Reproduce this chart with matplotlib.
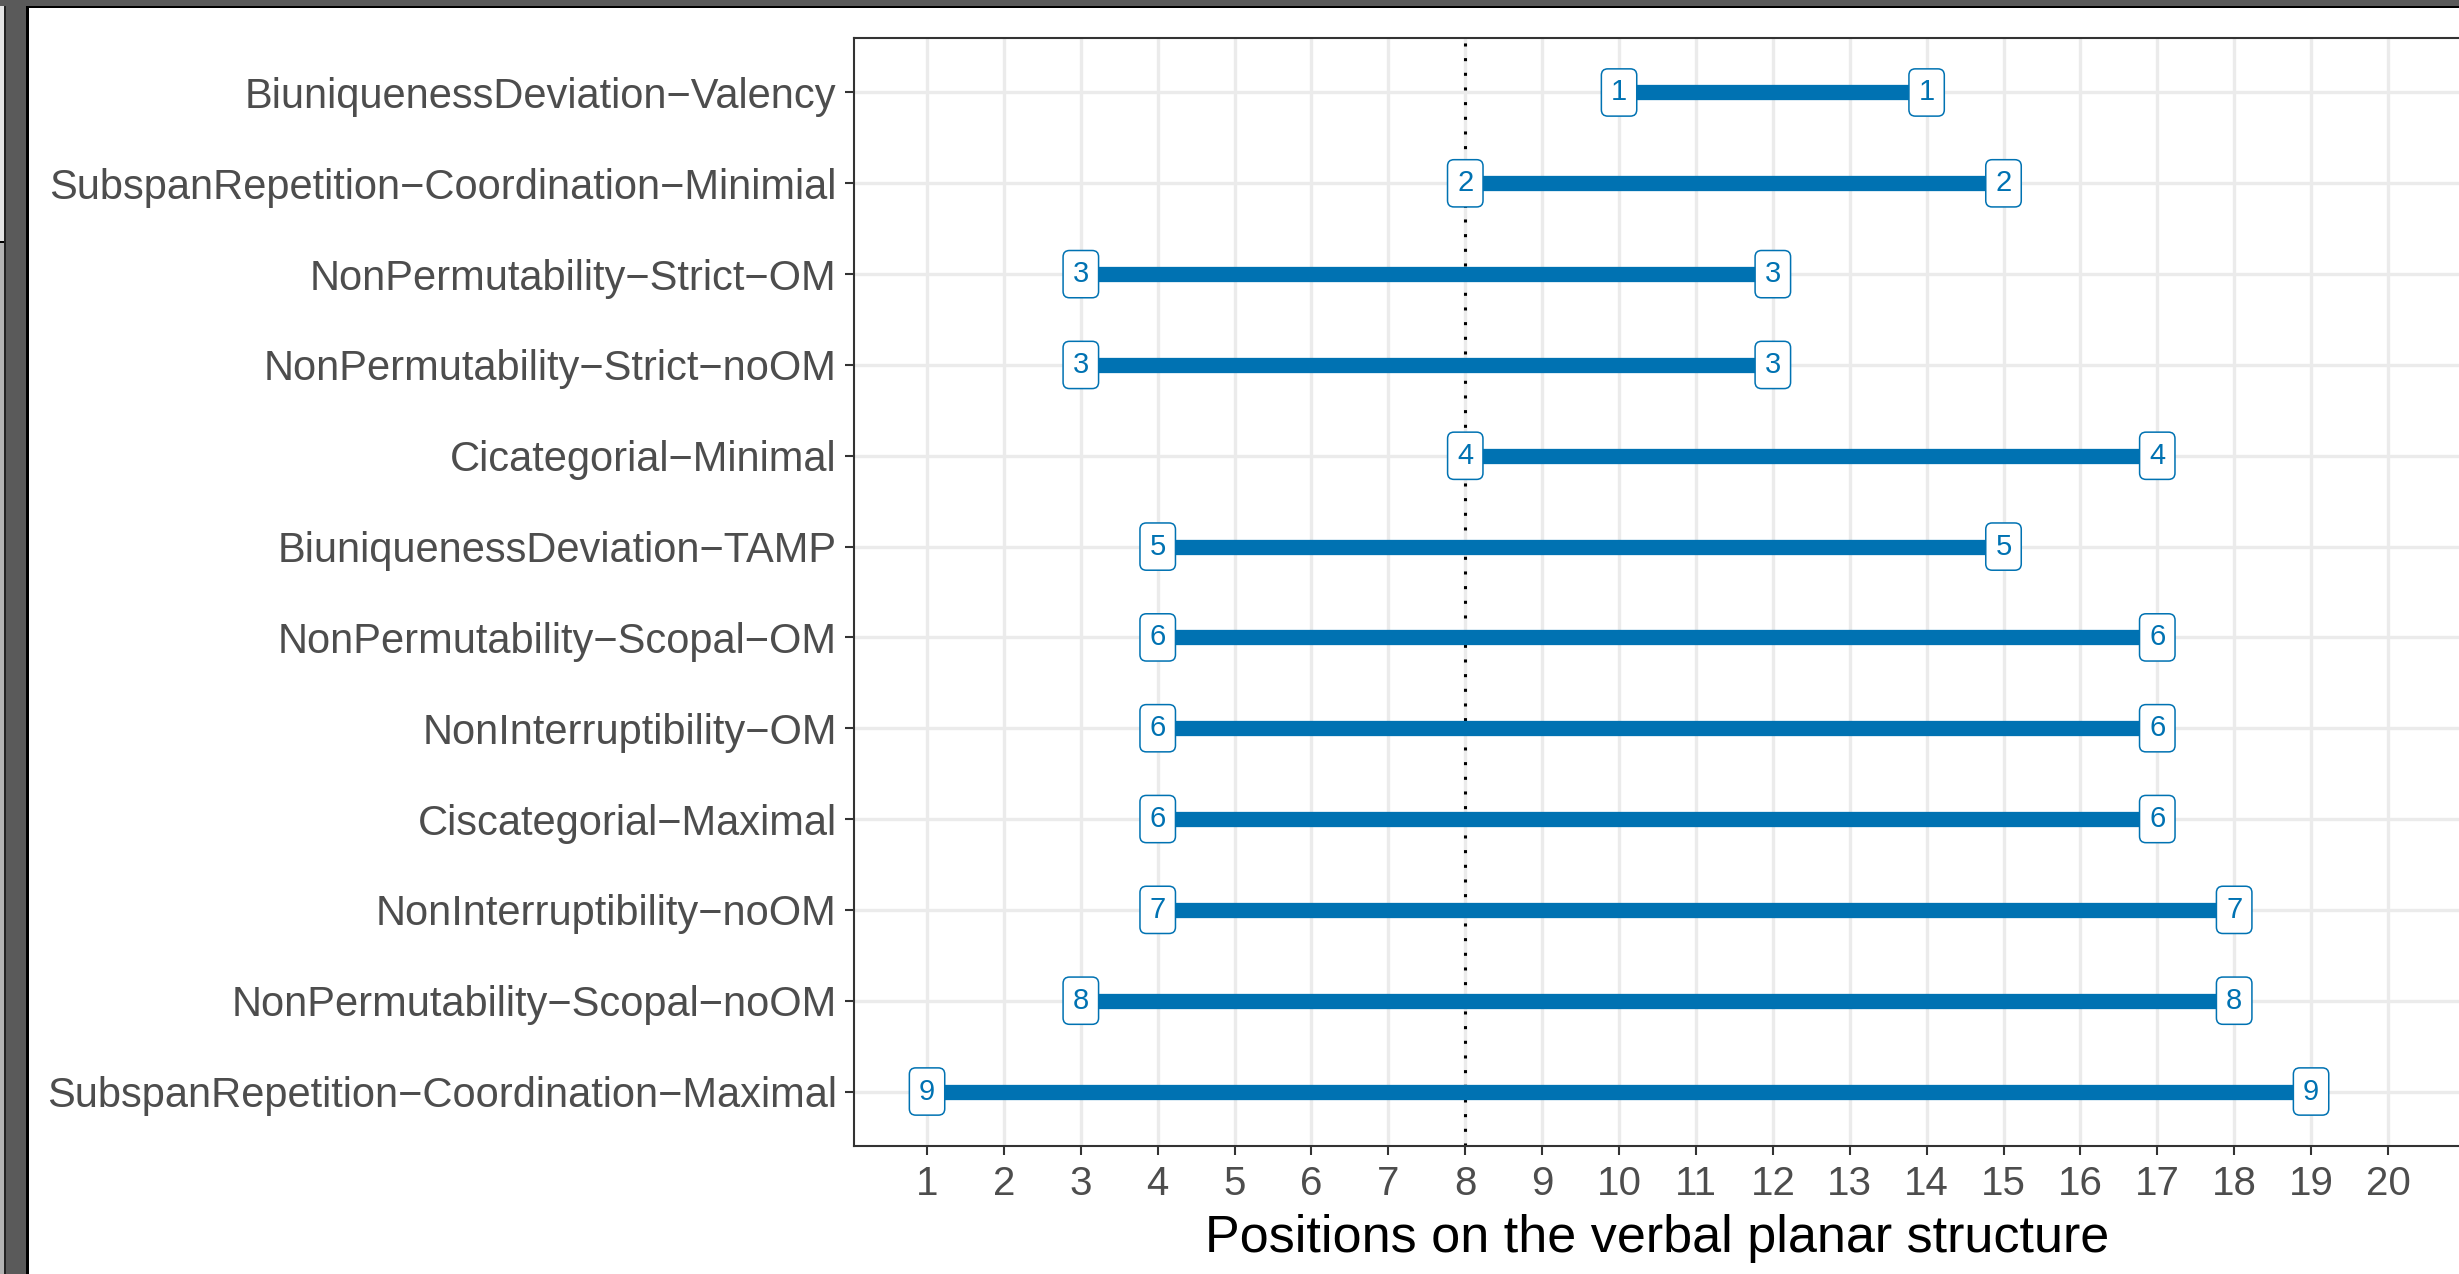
import numpy as np
import matplotlib.pyplot as plt
from matplotlib.patches import Rectangle

# data
labels = [
    "BiuniquenessDeviation\u2212Valency",
    "SubspanRepetition\u2212Coordination\u2212Minimial",
    "NonPermutability\u2212Strict\u2212OM",
    "NonPermutability\u2212Strict\u2212noOM",
    "Cicategorial\u2212Minimal",
    "BiuniquenessDeviation\u2212TAMP",
    "NonPermutability\u2212Scopal\u2212OM",
    "NonInterruptibility\u2212OM",
    "Ciscategorial\u2212Maximal",
    "NonInterruptibility\u2212noOM",
    "NonPermutability\u2212Scopal\u2212noOM",
    "SubspanRepetition\u2212Coordination\u2212Maximal",
]
starts = [10, 8, 3, 3, 8, 4, 4, 4, 4, 4, 3, 1]
ends = [14, 15, 12, 12, 17, 15, 17, 17, 17, 18, 18, 19]
span_ids = [1, 2, 3, 3, 4, 5, 6, 6, 6, 7, 8, 9]
x_ticks = list(range(1, 21))
ref_pos = 8

BLUE = "#0072B2"
W, H = 2459, 1274
DPI = 100

plt.rcParams["font.family"] = ["Liberation Sans", "DejaVu Sans"]

fig = plt.figure(figsize=(W / DPI, H / DPI), dpi=DPI)
fig.patch.set_facecolor("white")

# axes placed in pixel coords (panel runs off the right edge like the screenshot)
left, right, top, bottom = 854, 2461, 38, 1146
ax = fig.add_axes([left / W, 1 - bottom / H, (right - left) / W, (bottom - top) / H])

n = len(labels)
ypos = np.arange(n)

ax.set_xlim(0.05, 20.95)
ax.set_ylim(n - 0.4, -0.6)
ax.set_xticks(x_ticks)
ax.set_yticks(ypos)
ax.set_yticklabels(labels)

ax.grid(True, color="#EBEBEB", lw=2.4, zorder=0)
ax.set_axisbelow(True)

ax.axvline(ref_pos, color="black", lw=2.2, ls=(0, (1.0, 3.8)), zorder=1)

ax.hlines(ypos, starts, ends, color=BLUE, lw=11, capstyle="butt", zorder=2)

box = dict(boxstyle="round,pad=0.33,rounding_size=0.22", fc="white", ec=BLUE, lw=1.1)
for y, s, e, k in zip(ypos, starts, ends, span_ids):
    for xx in (s, e):
        ax.text(xx, y, str(k), ha="center", va="center", color=BLUE,
                fontsize=21, bbox=box, zorder=3)

for sp in ax.spines.values():
    sp.set_color("#333333")
    sp.set_linewidth(1.5)

ax.tick_params(axis="both", colors="#333333", length=6.5, width=1.5,
               labelsize=29, labelcolor="#4D4D4D")
ax.tick_params(axis="y", labelsize=30, pad=6)
ax.tick_params(axis="x", pad=7)

ax.set_xlabel("Positions on the verbal planar structure", fontsize=37.5,
              color="black", labelpad=8)


# screenshot window frame around the plot
def px_rect(x0, y0, x1, y1, color):
    fig.add_artist(Rectangle((x0 / W, 1 - y1 / H), (x1 - x0) / W, (y1 - y0) / H,
                             transform=fig.transFigure, fc=color, ec="none",
                             zorder=10))


px_rect(0, 0, 4, 242, "#E4E4E4")
px_rect(0, 242, 4, H, "#B3B3B3")
px_rect(0, 241, 4, 243, "black")
px_rect(4, 0, 6, H, "#222222")
px_rect(6, 0, 26, H, "#5A5A5A")
px_rect(0, 0, W, 6, "#5A5A5A")
px_rect(26, 6, W, 8, "black")
px_rect(26, 6, 29, H, "black")

fig.savefig("out.png", dpi=DPI)
